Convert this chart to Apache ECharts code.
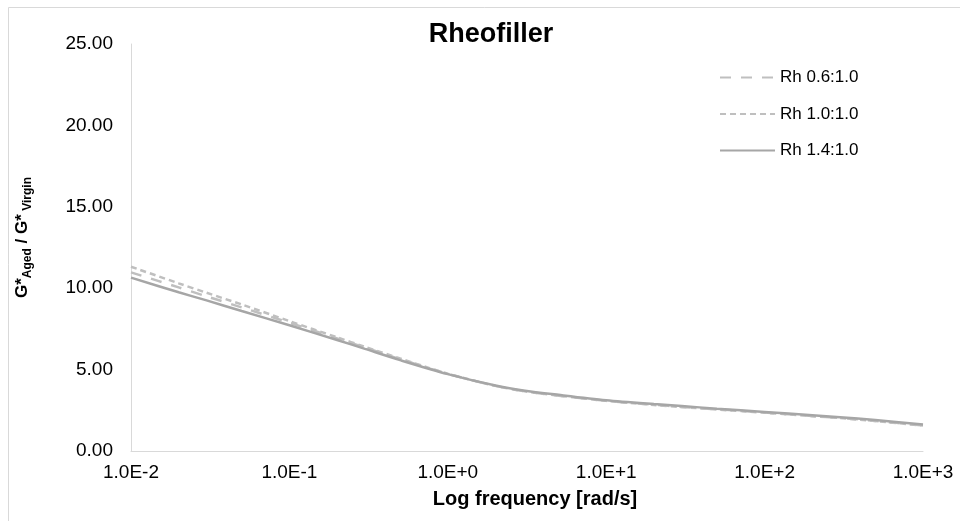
<!DOCTYPE html>
<html>
<head>
<meta charset="utf-8">
<script src="https://cdn.jsdelivr.net/npm/echarts@6/dist/echarts.min.js"></script>
<style>
html,body{margin:0;padding:0;background:#fff;}
#chart{width:960px;height:521px;}
</style>
</head>
<body>
<div id="chart"></div>
<script>
// Frequencies (rad/s)
var freq = [0.01, 0.02, 0.03, 0.05, 0.1, 0.2, 0.3, 0.5, 1, 2, 3, 5, 10, 20, 30, 50, 100, 200, 300, 500, 1000];
// G*Aged / G*Virgin
var rh06 = [10.97, 10.05, 9.5, 8.82, 7.88, 6.92, 6.35, 5.64, 4.74, 4.0, 3.68, 3.4, 3.08, 2.84, 2.71, 2.56, 2.36, 2.15, 2.03, 1.85, 1.57];
var rh10 = [11.32, 10.3, 9.72, 9.0, 7.98, 6.98, 6.4, 5.68, 4.75, 4.0, 3.68, 3.4, 3.08, 2.83, 2.7, 2.55, 2.35, 2.14, 2.02, 1.84, 1.56];
var rh14 = [10.65, 9.75, 9.25, 8.6, 7.72, 6.82, 6.27, 5.58, 4.72, 4.02, 3.72, 3.45, 3.12, 2.88, 2.76, 2.6, 2.4, 2.2, 2.08, 1.9, 1.63];
var seriesNames = ['Rh 0.6:1.0', 'Rh 1.0:1.0', 'Rh 1.4:1.0'];
var xTickLabels = {'-2': '1.0E-2', '-1': '1.0E-1', '0': '1.0E+0', '1': '1.0E+1', '2': '1.0E+2', '3': '1.0E+3'};

function pairs(ys) { return freq.map(function (f, i) { return [f, ys[i]]; }); }

var chart = echarts.init(document.getElementById('chart'));
var font = '"Liberation Sans", Arial, sans-serif';
chart.setOption({
  animation: false,
  backgroundColor: '#fff',
  textStyle: { fontFamily: font },
  title: {
    text: 'Rheofiller',
    left: 486, top: 16, textAlign: 'center',
    textStyle: { fontSize: 27, fontWeight: 'bold', color: '#000', fontFamily: font }
  },
  graphic: [{
    type: 'rect', left: 6, top: 5, silent: true,
    shape: { width: 1000, height: 600 },
    style: { fill: 'none', stroke: '#d9d9d9', lineWidth: 1 }
  }],
  legend: {
    orient: 'vertical', left: 714, top: 64,
    itemWidth: 55, itemHeight: 17, itemGap: 19.5,
    itemStyle: { opacity: 0 },
    textStyle: { fontSize: 17, color: '#000', fontFamily: font },
    data: seriesNames
  },
  grid: { left: 131, right: 37, top: 44, bottom: 70 },
  xAxis: {
    type: 'log', logBase: 10, min: 0.01, max: 1000,
    name: 'Log frequency [rad/s]', nameLocation: 'middle', nameGap: 38,
    nameTextStyle: { fontSize: 20, fontWeight: 'bold', color: '#000', fontFamily: font, padding: [0, 0, 0, 16] },
    axisLine: { show: true, lineStyle: { color: '#d9d9d9', width: 1 } },
    axisTick: { show: false },
    splitLine: { show: false },
    axisLabel: {
      fontSize: 19, color: '#000', margin: 12, fontFamily: font,
      formatter: function (v) { var e = Math.round(Math.log10(v)); return xTickLabels[String(e)] || ''; }
    }
  },
  yAxis: {
    type: 'value', min: 0, max: 25, interval: 5,
    name: '{b|G*}{s|Aged}{b| / G*}{s| Virgin}',
    nameLocation: 'middle', nameGap: 97,
    nameTextStyle: {
      padding: [0, 0, 0, 20],
      rich: {
        b: { fontSize: 17, fontWeight: 'bold', color: '#000', fontFamily: font, verticalAlign: 'top', lineHeight: 20 },
        s: { fontSize: 12, fontWeight: 'bold', color: '#000', fontFamily: font, verticalAlign: 'bottom', lineHeight: 20, padding: [9, 0, 0, 0] }
      }
    },
    axisLine: { show: true, lineStyle: { color: '#d9d9d9', width: 1 } },
    axisTick: { show: false },
    splitLine: { show: false },
    axisLabel: {
      fontSize: 19, color: '#000', margin: 18, fontFamily: font,
      formatter: function (v) { return v.toFixed(2); }
    }
  },
  series: [
    {
      name: seriesNames[0], type: 'line', data: pairs(rh06), smooth: 0.3, symbol: 'none',
      lineStyle: { color: '#bfbfbf', width: 2.5, type: [11, 10] }, itemStyle: { color: '#bfbfbf' }, z: 2
    },
    {
      name: seriesNames[1], type: 'line', data: pairs(rh10), smooth: 0.3, symbol: 'none',
      lineStyle: { color: '#bfbfbf', width: 2.5, type: [6, 4] }, itemStyle: { color: '#bfbfbf' }, z: 3
    },
    {
      name: seriesNames[2], type: 'line', data: pairs(rh14), smooth: 0.3, symbol: 'none',
      lineStyle: { color: '#a6a6a6', width: 2.5, type: 'solid' }, itemStyle: { color: '#a6a6a6' }, z: 4
    }
  ]
});
</script>
</body>
</html>
